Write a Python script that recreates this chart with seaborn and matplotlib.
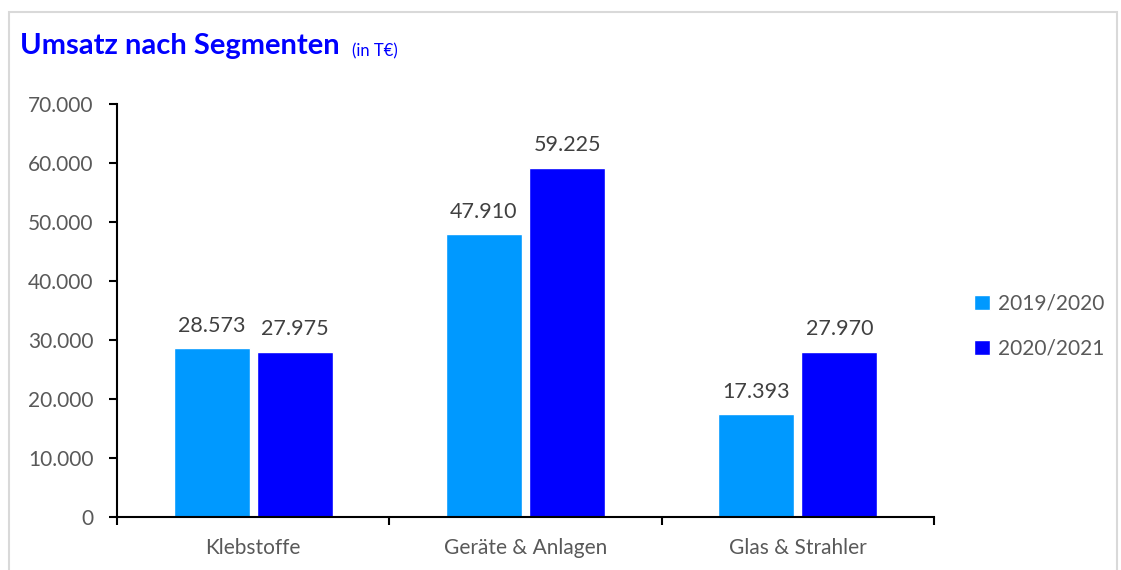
import pandas as pd
import seaborn as sns
import matplotlib.pyplot as plt
from matplotlib.patches import Rectangle
from matplotlib.ticker import FuncFormatter

segments = ["Klebstoffe", "Geräte & Anlagen", "Glas & Strahler"]
years = ["2019/2020", "2020/2021"]
umsatz_1920 = [28573, 47910, 17393]
umsatz_2021 = [27975, 59225, 27970]
colors = ["#0099FF", "#0000FF"]

df = pd.DataFrame({
    "segment": segments * 2,
    "year": [years[0]] * 3 + [years[1]] * 3,
    "umsatz": umsatz_1920 + umsatz_2021,
})

sns.set_theme(style="white")
plt.rcParams['font.family'] = ['Lato', 'DejaVu Sans']

fig = plt.figure(figsize=(11.21, 5.70), dpi=100)
ax = fig.add_axes([0.1044, 0.093, 0.7288, 0.7245])

sns.barplot(data=df, x="segment", y="umsatz", hue="year", palette=colors,
            width=0.61, gap=0.085, ax=ax, legend=True, saturation=1)

def de_fmt(v, pos=None):
    return f"{v:,.0f}".replace(",", ".")

ax.set_ylim(0, 70000)
ax.set_xlim(-0.5, 2.5)
ax.yaxis.set_major_formatter(FuncFormatter(de_fmt))
ax.set_yticks(range(0, 70001, 10000))
ax.set_xlabel("")
ax.set_ylabel("")

# category labels centred, tick marks at the category boundaries
ax.set_xticks([-0.5, 0.5, 1.5, 2.5], minor=True)
ax.tick_params(axis="x", which="major", length=0, pad=15, labelsize=15, labelcolor="#595959")
ax.tick_params(axis="x", which="minor", length=6, width=1.5, color="black", bottom=True, direction="out")
ax.tick_params(axis="y", length=6, width=1.5, color="black", left=True, direction="out",
               labelsize=15, labelcolor="#595959", pad=11)

for s in ["top", "right"]:
    ax.spines[s].set_visible(False)
for s in ["left", "bottom"]:
    ax.spines[s].set_color("black")
    ax.spines[s].set_linewidth(1.5)

for c in ax.containers:
    ax.bar_label(c, labels=[de_fmt(v) for v in c.datavalues], padding=9,
                 fontsize=15.5, color="#404040")

handles, labels = ax.get_legend_handles_labels()
ax.legend(handles, labels, loc="center left", bbox_to_anchor=(1.026, 0.4625),
          frameon=False, handlelength=0.75, handleheight=0.75, handletextpad=0.4,
          labelspacing=1.2, fontsize=15, labelcolor="#595959")

title = fig.text(0.018, 0.905, "Umsatz nach Segmenten", fontsize=21, fontweight="bold", color="#0000FF")
ax.annotate("(in T€)", xy=(1, 0), xycoords=title, xytext=(9, 0), textcoords="offset points",
            fontsize=12, color="#0000FF", va="bottom")

fig.patches.append(Rectangle((0.008, -0.05), 0.988, 1.029, transform=fig.transFigure,
                             fill=False, edgecolor="#D9D9D9", linewidth=1.5))

fig.savefig("out.png", dpi=100)
